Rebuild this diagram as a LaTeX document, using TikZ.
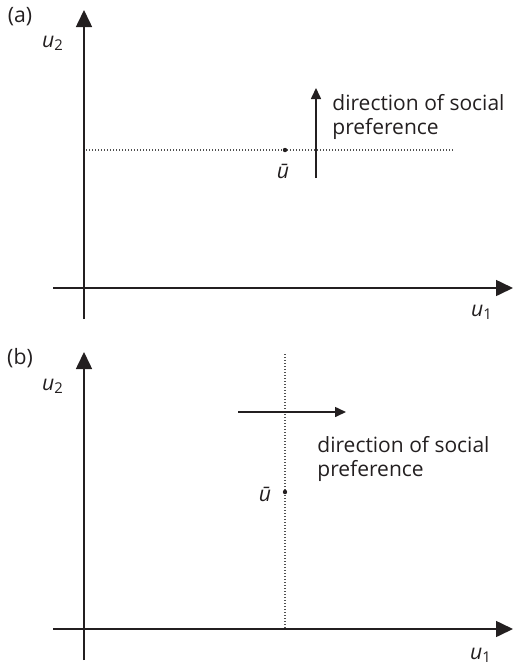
\documentclass[tikz,border=0pt]{standalone}
\usepackage{fontspec}
\setmainfont{Open Sans}
\usetikzlibrary{arrows.meta,positioning,calc}
\definecolor{axisblack}{HTML}{231F20}
\definecolor{dotgray}{HTML}{505050}

\begin{document}
\begin{tikzpicture}[
    x=0.5pt,y=-0.5pt,
    ax/.style = {-{Triangle[length=8.5pt,width=8pt]},axisblack,line width=0.8pt},
    pf/.style = {-{Triangle[length=5.5pt,width=5pt]},axisblack,line width=0.8pt},
    dl/.style = {dotgray,line width=0.6pt,dash pattern=on 0.5pt off 1pt},
    lb/.style = {font=\fontsize{10.6}{12}\selectfont,text=axisblack,inner sep=0pt},
    tx/.style = {font=\fontsize{10.5}{12}\selectfont,text=axisblack,align=left,
                 inner sep=0pt,anchor=north west},
  ]
  \useasboundingbox (0,0) rectangle (513,666);

  % (a) social preference upwards
  \coordinate (ya0) at (84,319);
  \coordinate (ya1) at (84,10);
  \coordinate (xa0) at (53,288);
  \coordinate (xa1) at (513,288);
  \draw[ax] (ya0) -- (ya1);
  \draw[ax] (xa0) -- (xa1);

  \node[lb] (pa)  at (20,17)   {(a)};
  \node[lb] (u2a) at (53,43)   {\textit{u}\textsubscript{2}};
  \node[lb] (u1a) at (482,312) {\textit{u}\textsubscript{1}};

  \coordinate (da0) at (86,150);
  \coordinate (da1) at (453,150);
  \draw[dl] (da0) -- (da1);
  \coordinate (ua) at (285,150);
  \fill[axisblack] (ua) circle (1.1pt);
  \node[lb] (uba) at (283,171) {\textit{ū}};

  \coordinate (pa0) at (316,178);
  \coordinate (pa1) at (316,88);
  \draw[pf] (pa0) -- (pa1);
  \node[tx] (dsa) at (332,94) {direction of social\\preference};

  % (b) social preference to the right
  \coordinate (yb0) at (84,660);
  \coordinate (yb1) at (84,352);
  \coordinate (xb0) at (53,629);
  \coordinate (xb1) at (513,629);
  \draw[ax] (yb0) -- (yb1);
  \draw[ax] (xb0) -- (xb1);

  \node[lb] (pb)  at (20,358)  {(b)};
  \node[lb] (u2b) at (53,386)  {\textit{u}\textsubscript{2}};
  \node[lb] (u1b) at (481,655) {\textit{u}\textsubscript{1}};

  \coordinate (db0) at (285,354);
  \coordinate (db1) at (285,629);
  \draw[dl] (db0) -- (db1);
  \coordinate (ub) at (285,492);
  \fill[axisblack] (ub) circle (1.1pt);
  \node[lb] (ubb) at (265,494) {\textit{ū}};

  \coordinate (pb0) at (238,412);
  \coordinate (pb1) at (346,412);
  \draw[pf] (pb0) -- (pb1);
  \node[tx] (dsb) at (317,436) {direction of social\\preference};

\end{tikzpicture}
\end{document}
